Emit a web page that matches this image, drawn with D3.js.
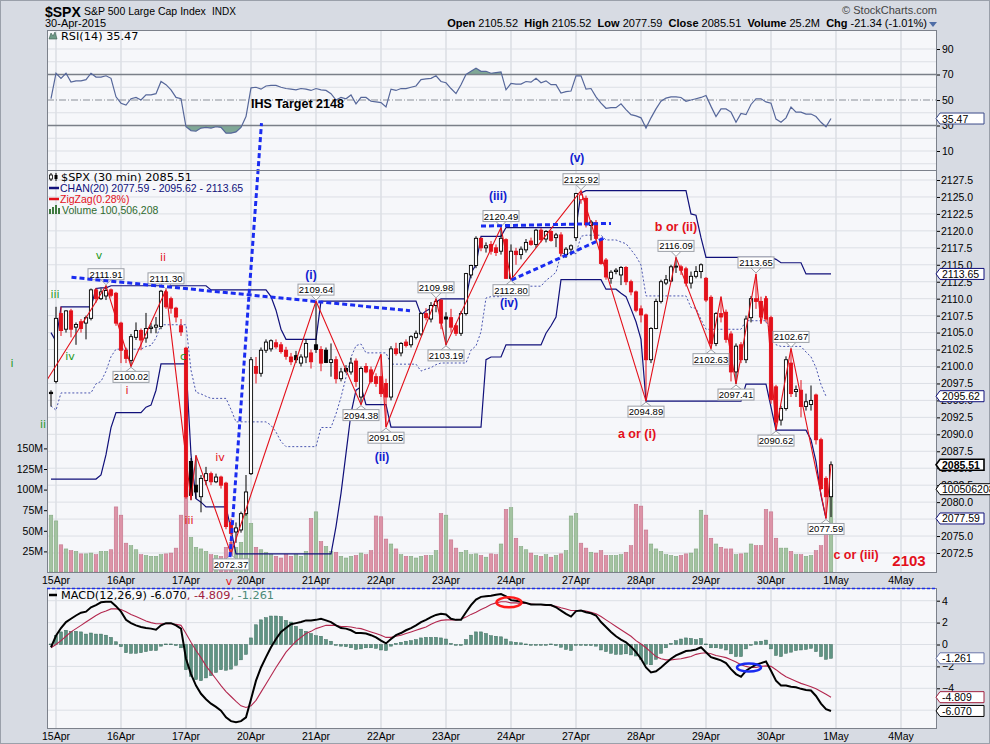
<!DOCTYPE html>
<html>
<head>
<meta charset="utf-8">
<title>$SPX 30 min</title>
<script src="https://cdn.jsdelivr.net/npm/d3@7"></script>
<style>
  body { margin: 0; background: #fff; }
  svg text { font-family: 'Liberation Sans', Arial, sans-serif; }
  svg text.dj { font-family: 'DejaVu Sans', Verdana, sans-serif; }
</style>
</head>
<body>
<svg id="chart" width="990" height="744"></svg>
<script>
(function() {
    'use strict';

    // ---- data (30 min bars, index 0 = last bar of 14 Apr) ----
    const dayLabels = ['15Apr', '16Apr', '17Apr', '20Apr', '21Apr', '22Apr', '23Apr', '24Apr', '27Apr', '28Apr', '29Apr', '30Apr', '1May', '4May'];
    const dayIndex = [1, 14, 27, 40, 53, 66, 79, 92, 105, 118, 131, 144, 157, 170];

    const opens = [
        2096.2, 2097.8, 2107.8, 2105.5, 2108.2, 2105.8, 2106.6, 2106.4, 2107.1, 2111.3, 2110.0, 2110.4, 2111.3, 2110.8,
        2106.4, 2102.4, 2100.9, 2104.3, 2105.3, 2104.2, 2105.6, 2105.8, 2105.9, 2111.0, 2110.0, 2108.6, 2106.0,
        2102.7, 2086.0, 2082.5, 2080.8, 2083.2, 2084.2, 2083.0, 2083.7, 2082.8, 2077.0, 2075.6, 2075.9, 2078.3,
        2084.2, 2100.0, 2099.0, 2102.4, 2102.6, 2103.5, 2103.2, 2102.4, 2101.4, 2101.6, 2100.5, 2101.4, 2102.0,
        2103.2, 2102.5, 2102.4, 2100.6, 2101.0, 2098.2, 2099.7, 2099.2, 2100.8, 2095.5, 2100.0, 2099.5, 2098.5,
        2098.5, 2097.5, 2095.5, 2102.6, 2102.0, 2103.6, 2103.2, 2104.3, 2104.8, 2107.8, 2107.0, 2109.0, 2109.8,
        2107.3, 2107.2, 2106.0, 2104.9, 2107.8, 2113.5, 2114.9, 2118.9, 2117.5, 2118.0, 2117.5, 2117.0, 2118.7,
        2113.0, 2117.0, 2116.5, 2117.2, 2118.5, 2118.0, 2120.1, 2118.8, 2119.9, 2119.0, 2119.4, 2116.5, 2117.3,
        2119.0, 2124.6, 2124.8, 2120.8, 2121.2, 2118.7, 2115.7, 2113.0, 2114.0, 2113.5, 2114.6, 2112.5, 2111.0,
        2108.5, 2107.6, 2101.0, 2105.6, 2109.6, 2112.3, 2112.6, 2114.7, 2114.7, 2114.4, 2112.3, 2113.3, 2114.0,
        2113.0, 2110.2, 2103.4, 2107.8, 2108.0, 2104.8, 2099.2, 2103.2, 2101.0, 2107.2, 2110.0, 2109.6, 2110.0,
        2107.2, 2097.0, 2092.1, 2093.8, 2100.5, 2096.3, 2096.5, 2094.1, 2094.4, 2095.8, 2089.2, 2083.5, 2080.8
    ];
    const highs = [
        2096.5, 2108.8, 2108.8, 2108.3, 2108.5, 2106.5, 2107.0, 2107.5, 2111.5, 2111.6, 2111.5, 2111.91, 2111.5, 2111.0,
        2106.6, 2102.8, 2104.8, 2106.5, 2105.6, 2107.9, 2106.4, 2107.3, 2111.3, 2111.30, 2110.3, 2108.8, 2107.0,
        2102.9, 2086.5, 2086.9, 2084.0, 2085.2, 2084.5, 2084.2, 2083.9, 2083.0, 2077.6, 2077.0, 2078.6, 2084.0,
        2101.4, 2101.4, 2102.8, 2104.0, 2104.0, 2104.0, 2103.6, 2102.9, 2102.0, 2102.3, 2101.8, 2104.0, 2102.5,
        2109.64, 2103.0, 2102.8, 2103.4, 2101.5, 2099.8, 2100.2, 2101.3, 2101.2, 2100.0, 2100.5, 2100.0, 2099.0,
        2101.8, 2098.2, 2103.0, 2103.5, 2103.6, 2104.0, 2104.6, 2105.3, 2108.0, 2108.6, 2109.5, 2109.98, 2109.9,
        2108.0, 2108.5, 2106.4, 2108.2, 2113.8, 2115.0, 2119.2, 2119.0, 2118.3, 2118.5, 2118.0, 2120.49, 2118.9,
        2118.0, 2117.5, 2117.7, 2118.8, 2119.0, 2120.3, 2120.4, 2120.1, 2120.1, 2119.7, 2119.8, 2117.6, 2118.0,
        2125.6, 2125.92, 2125.2, 2121.6, 2121.6, 2119.0, 2116.0, 2114.2, 2114.5, 2114.8, 2114.8, 2112.8, 2111.2,
        2109.0, 2107.8, 2105.8, 2110.0, 2112.8, 2113.5, 2115.0, 2116.09, 2115.0, 2114.7, 2114.0, 2114.8, 2115.2,
        2113.2, 2110.5, 2108.0, 2110.3, 2108.4, 2105.2, 2103.4, 2103.6, 2107.5, 2110.4, 2113.65, 2110.3, 2110.4,
        2107.5, 2097.3, 2094.2, 2101.5, 2102.67, 2097.2, 2098.0, 2096.0, 2097.2, 2096.0, 2089.5, 2083.8, 2086.0
    ];
    const lows = [
        2094.1, 2097.5, 2104.5, 2105.0, 2104.3, 2103.2, 2105.0, 2104.0, 2106.8, 2109.4, 2109.8, 2109.8, 2110.2, 2106.0,
        2100.5, 2100.5, 2100.02, 2103.9, 2102.4, 2103.5, 2104.9, 2104.9, 2105.5, 2108.5, 2107.8, 2106.5, 2104.5,
        2080.5, 2080.3, 2080.5, 2078.5, 2082.5, 2082.5, 2082.8, 2082.0, 2076.0, 2072.37, 2074.0, 2075.5, 2078.0,
        2084.0, 2097.5, 2098.5, 2102.0, 2102.2, 2102.6, 2101.9, 2101.0, 2100.2, 2100.5, 2100.0, 2100.5, 2099.7,
        2102.0, 2099.3, 2100.5, 2098.5, 2097.5, 2097.8, 2099.0, 2098.8, 2097.0, 2094.38, 2099.0, 2097.5, 2097.0,
        2095.5, 2091.05, 2095.0, 2101.6, 2101.5, 2102.8, 2102.8, 2104.0, 2104.5, 2106.8, 2106.5, 2108.0, 2105.5,
        2103.19, 2105.0, 2104.5, 2104.5, 2107.5, 2113.0, 2114.5, 2117.0, 2116.8, 2116.5, 2116.3, 2116.5, 2112.9,
        2112.80, 2115.0, 2115.8, 2116.8, 2117.8, 2117.5, 2118.3, 2118.3, 2118.4, 2117.6, 2116.2, 2116.0, 2116.4,
        2118.5, 2124.0, 2120.5, 2118.6, 2118.6, 2115.0, 2112.8, 2112.2, 2113.6, 2112.0, 2112.0, 2110.5, 2108.0,
        2106.5, 2094.89, 2100.5, 2105.5, 2109.3, 2112.0, 2112.5, 2113.8, 2113.5, 2111.8, 2111.5, 2113.0, 2113.0,
        2109.5, 2102.63, 2103.0, 2106.5, 2103.5, 2097.8, 2097.41, 2100.5, 2100.5, 2106.5, 2108.5, 2106.3, 2106.5,
        2094.5, 2090.62, 2091.3, 2093.5, 2095.5, 2095.5, 2092.5, 2093.5, 2093.5, 2088.5, 2081.8, 2077.59, 2077.8
    ];
    const closes = [
        2096.0, 2107.1, 2105.3, 2108.2, 2105.5, 2106.2, 2105.6, 2107.2, 2111.3, 2110.0, 2111.0, 2111.2, 2110.5, 2106.4,
        2102.4, 2101.2, 2104.4, 2105.3, 2103.9, 2105.6, 2105.8, 2106.1, 2111.1, 2108.8, 2108.6, 2107.3, 2105.1,
        2080.8, 2081.0, 2081.5, 2083.5, 2084.2, 2083.0, 2083.7, 2082.5, 2076.4, 2075.4, 2076.2, 2078.3, 2081.5,
        2101.0, 2099.0, 2102.4, 2103.6, 2103.8, 2102.9, 2102.2, 2101.5, 2100.7, 2101.0, 2101.4, 2103.4, 2100.7,
        2102.5, 2100.5, 2100.6, 2101.0, 2098.2, 2099.2, 2099.3, 2100.5, 2097.8, 2099.7, 2099.2, 2097.8, 2097.5,
        2096.0, 2095.5, 2102.6, 2101.9, 2103.4, 2103.1, 2104.4, 2104.9, 2107.8, 2107.2, 2109.0, 2109.6, 2106.4,
        2107.0, 2105.8, 2104.9, 2107.8, 2113.7, 2114.9, 2118.9, 2117.5, 2117.8, 2117.0, 2116.8, 2118.9, 2113.0,
        2117.0, 2116.5, 2117.3, 2118.3, 2118.0, 2120.1, 2118.7, 2119.9, 2118.6, 2119.4, 2116.7, 2117.3, 2117.8,
        2125.5, 2125.3, 2120.9, 2121.3, 2118.9, 2115.2, 2113.2, 2113.9, 2114.2, 2114.6, 2112.5, 2111.0, 2108.3,
        2107.6, 2101.0, 2105.6, 2109.6, 2112.5, 2112.8, 2114.7, 2114.8, 2114.2, 2112.3, 2113.3, 2114.0, 2115.0,
        2109.8, 2103.4, 2107.8, 2107.3, 2104.0, 2099.2, 2103.0, 2101.0, 2107.0, 2110.0, 2109.6, 2107.3, 2107.0,
        2095.1, 2091.8, 2093.8, 2101.0, 2096.0, 2096.6, 2094.1, 2094.8, 2095.0, 2089.2, 2082.0, 2080.8, 2085.51
    ];
    // volume, millions
    const volumes = [
        69, 62, 33, 28, 26, 25, 22, 22, 23, 21, 25, 25, 27, 79,
        69, 35, 32, 27, 21, 20, 19, 19, 21, 22, 23, 29, 69,
        108, 42, 30, 28, 25, 21, 20, 19, 30, 36, 30, 36, 71,
        59, 30, 27, 24, 21, 19, 17, 21, 19, 21, 19, 25, 65,
        73, 37, 31, 25, 24, 19, 17, 19, 20, 23, 21, 26, 68,
        67, 40, 34, 28, 21, 19, 19, 17, 19, 20, 20, 26, 71,
        69, 39, 29, 24, 26, 21, 22, 20, 18, 22, 21, 34, 76,
        78, 41, 31, 27, 23, 20, 19, 21, 18, 20, 22, 26, 68,
        71, 35, 29, 24, 23, 26, 20, 20, 20, 21, 24, 32, 82,
        80, 51, 34, 28, 25, 21, 20, 19, 20, 22, 23, 28, 75,
        69, 41, 34, 30, 28, 28, 21, 22, 23, 34, 32, 32, 76,
        73, 41, 29, 29, 25, 21, 21, 19, 20, 26, 32, 60, 100.5
    ];
    // price channel CHAN(20) upper / lower
    const chanUpper = [
        2105.0, 2103.7, 2108.8, 2108.8, 2108.8, 2108.8, 2108.8, 2108.8, 2108.8, 2111.5, 2111.6, 2111.6, 2111.91, 2111.91,
        2111.91, 2111.91, 2111.91, 2111.91, 2111.91, 2111.91, 2111.91, 2111.91, 2111.91, 2111.91, 2111.91, 2111.91, 2111.91,
        2111.91, 2111.91, 2111.91, 2111.91, 2111.91, 2111.30, 2111.30, 2111.30, 2111.30, 2111.30, 2111.30, 2111.30, 2111.30,
        2111.30, 2111.30, 2111.30, 2111.30, 2110.3, 2108.3, 2105.5, 2104.0, 2104.0, 2104.0, 2104.0, 2104.0, 2104.0,
        2104.0, 2109.64, 2109.64, 2109.64, 2109.64, 2109.64, 2109.64, 2109.64, 2109.64, 2109.64, 2109.64, 2109.64, 2109.64,
        2109.64, 2109.64, 2109.64, 2109.64, 2109.64, 2109.64, 2109.64, 2109.64, 2107.6, 2108.2, 2108.6, 2109.5, 2109.98,
        2109.98, 2109.98, 2109.98, 2109.98, 2109.98, 2113.8, 2115.0, 2119.2, 2119.2, 2119.2, 2119.2, 2119.2, 2120.49,
        2120.49, 2120.49, 2120.49, 2120.49, 2120.49, 2120.49, 2120.49, 2120.49, 2120.49, 2120.49, 2120.49, 2120.49, 2120.49,
        2120.49, 2125.6, 2125.92, 2125.92, 2125.92, 2125.92, 2125.92, 2125.92, 2125.92, 2125.92, 2125.92, 2125.92, 2125.92,
        2125.92, 2125.92, 2125.92, 2125.92, 2125.92, 2125.92, 2125.92, 2125.92, 2125.92, 2125.92, 2122.5, 2122.3, 2119.0,
        2116.09, 2116.09, 2116.09, 2116.09, 2116.09, 2116.09, 2116.09, 2116.09, 2116.09, 2116.09, 2116.09, 2116.09, 2116.09,
        2116.09, 2115.8, 2115.3, 2115.3, 2115.3, 2115.3, 2115.3, 2113.65, 2113.65, 2113.65, 2113.65, 2113.65, 2113.65
    ];
    const chanLower = [
        2083.4, 2083.4, 2083.4, 2083.4, 2083.4, 2083.4, 2083.4, 2083.4, 2083.4, 2083.4, 2084.0, 2087.0, 2091.0, 2093.2,
        2093.2, 2093.2, 2093.2, 2093.2, 2093.2, 2094.0, 2094.3, 2096.5, 2100.4, 2100.4, 2100.4, 2100.4, 2100.4,
        2100.4, 2087.0, 2080.5, 2080.0, 2079.3, 2079.3, 2079.3, 2079.3, 2079.3, 2076.0, 2072.37, 2072.37, 2072.37,
        2072.37, 2072.37, 2072.37, 2072.37, 2072.37, 2072.37, 2072.37, 2072.37, 2072.37, 2072.37, 2072.37, 2072.37, 2072.37,
        2072.37, 2072.37, 2072.37, 2072.37, 2076.4, 2081.3, 2087.2, 2093.1, 2096.5, 2097.0, 2094.38, 2094.38, 2094.38,
        2094.38, 2094.38, 2091.05, 2091.05, 2091.05, 2091.05, 2091.05, 2091.05, 2091.05, 2091.05, 2091.05, 2091.05, 2091.05,
        2091.05, 2091.05, 2091.05, 2091.05, 2091.05, 2091.05, 2091.05, 2091.05, 2101.0, 2101.4, 2101.4, 2101.4, 2103.19,
        2103.19, 2103.19, 2103.19, 2103.19, 2103.19, 2103.19, 2103.19, 2104.9, 2106.0, 2107.3, 2112.80, 2112.80, 2112.80,
        2112.80, 2112.80, 2112.80, 2112.80, 2112.80, 2112.80, 2111.4, 2111.4, 2111.4, 2110.8, 2110.3, 2108.5,
        2106.6, 2104.0, 2094.89, 2094.89, 2094.89, 2094.89, 2094.89, 2094.89, 2094.89, 2094.89, 2094.89, 2094.89, 2094.89,
        2094.89, 2094.89, 2094.89, 2094.89, 2094.89, 2094.89, 2094.89, 2094.89, 2094.89, 2097.41, 2097.41, 2097.41, 2097.41,
        2097.41, 2094.0, 2090.62, 2090.62, 2090.62, 2090.62, 2090.62, 2090.62, 2090.62, 2089.2, 2086.0, 2081.0, 2077.59
    ];
    const rsiValues = [
        51, 71, 67, 71, 64, 65, 65, 66, 71, 68, 68, 69, 67, 52.5,
        47.5, 46, 51, 52, 50, 54, 54, 55, 64.5, 62, 58, 52, 51,
        29, 26, 25.5, 28, 28.5, 28, 29, 28.5, 24, 24, 25, 28.5, 37,
        59.5, 60, 58.5, 61, 61.5, 61.5, 60, 59, 58.5, 58, 59, 58.5, 57.5,
        59, 58, 57.5, 55, 50, 52, 51, 54, 47, 52, 52, 49, 48.5,
        48, 44.5, 58.5, 57.5, 59, 59, 60, 61, 66, 66.5, 67, 69, 64.5,
        63.5, 59, 55, 62, 70, 72.5, 75, 72.5, 72.5, 71, 71.5, 72, 58,
        63, 62.5, 62.5, 64.5, 64, 67, 63.5, 65, 62, 62, 55.5, 56.5, 57,
        69, 69, 58.5, 59, 52.5, 47.5, 43.5, 44, 44, 47, 42.5, 38.5, 37.5,
        36, 28, 36, 43, 49, 51.5, 52.5, 52.5, 52, 49, 50, 51, 52,
        53.5, 45, 37, 43, 43, 40.5, 32.5, 39.5, 38.5, 46.5, 51, 51, 48.5,
        47.5, 35, 32.5, 36, 44.5, 40.5, 40.5, 39, 39, 37, 32.5, 29, 35.47
    ];
    const macdValues = [
        -0.25, 0.8, 1.5, 2.05, 2.35, 2.65, 2.9, 3.0, 3.4, 3.6, 3.85, 3.9, 3.9, 3.5,
        3.0, 2.25, 1.95, 1.75, 1.6, 1.5, 1.45, 1.35, 1.75, 1.95, 1.95, 1.75, 1.45,
        -1.3, -2.7, -3.75, -4.5, -5.0, -5.4, -5.7, -6.05, -6.65, -7.0, -7.1, -7.0, -6.65,
        -5.0, -3.3, -2.1, -1.15, -0.25, 0.5, 1.15, 1.5, 1.85, 1.95, 2.05, 2.2, 2.2,
        2.25, 2.35, 2.2, 2.05, 1.75, 1.5, 1.45, 1.3, 1.05, 1.05, 1.0, 0.85, 0.65,
        0.35, 0.1, 0.5, 0.85, 1.05, 1.3, 1.5, 1.75, 2.05, 2.25, 2.5, 2.7, 2.8,
        2.75, 2.35, 2.25, 2.25, 2.95, 3.6, 4.1, 4.35, 4.4, 4.45, 4.55, 4.6, 4.4,
        4.05, 4.0, 3.9, 3.8, 3.65, 3.65, 3.65, 3.6, 3.6, 3.4, 3.1, 2.8, 2.55,
        3.05, 3.1, 2.95, 2.85, 2.65, 2.05, 1.6, 1.15, 0.75, 0.45, 0.2, -0.2, -0.7,
        -1.3, -2.1, -2.55, -2.45, -2.1, -1.7, -1.3, -1.0, -0.8, -0.6, -0.55, -0.45, -0.25,
        -0.7, -1.15, -1.3, -1.45, -1.7, -2.25, -2.7, -2.95, -2.4, -2.1, -1.85, -1.7, -1.55,
        -2.4, -3.3, -3.75, -3.75, -3.85, -3.9, -4.05, -4.15, -4.2, -4.7, -5.4, -5.9, -6.07
    ];
    const signalValues = [
        -0.3, 0, 0.35, 0.75, 1.15, 1.45, 1.75, 2.05, 2.35, 2.65, 2.9, 3.05, 3.25, 3.25,
        3.2, 3.0, 2.75, 2.55, 2.35, 2.15, 2.0, 1.9, 1.9, 1.9, 1.9, 1.85, 1.75,
        1.0, 0.2, -0.55, -1.2, -1.95, -2.55, -3.15, -3.75, -4.3, -4.75, -5.2, -5.6, -5.75,
        -5.6, -5.1, -4.35, -3.6, -2.85, -2.1, -1.4, -0.7, -0.2, 0.3, 0.65, 1.0, 1.2,
        1.45, 1.6, 1.75, 1.75, 1.75, 1.65, 1.65, 1.6, 1.5, 1.45, 1.3, 1.15, 1.0,
        0.85, 0.65, 0.65, 0.75, 0.85, 1.0, 1.15, 1.3, 1.45, 1.6, 1.85, 2.05, 2.2,
        2.25, 2.25, 2.25, 2.3, 2.5, 2.75, 2.95, 3.2, 3.4, 3.65, 3.8, 3.9, 3.9,
        3.8, 3.8, 3.75, 3.75, 3.7, 3.65, 3.65, 3.6, 3.55, 3.5, 3.35, 3.25, 3.1,
        3.1, 3.1, 3.05, 2.95, 2.8, 2.55, 2.25, 1.95, 1.65, 1.35, 1.05, 0.75, 0.35,
        0.05, -0.3, -0.7, -1.1, -1.3, -1.4, -1.4, -1.35, -1.3, -1.2, -1.1, -0.9, -0.8,
        -0.75, -0.85, -1.0, -1.1, -1.2, -1.4, -1.6, -1.85, -2.0, -2.1, -2.1, -2.0, -1.95,
        -2.0, -2.3, -2.65, -2.95, -3.15, -3.35, -3.55, -3.7, -3.85, -4.05, -4.3, -4.55, -4.809
    ];

    // ZigZag(0.28%) pivots: bar index and price
    const zigIdx = [-0.8, 11, 16, 23, 28, 29, 36, 53, 62, 66, 67, 77, 79, 90, 92, 106, 119, 125, 132, 134, 137, 141, 142, 143, 145, 148, 155, 156];
    const zigVal = [2098.0, 2111.91, 2100.02, 2111.30, 2080.3, 2086.9, 2072.37, 2109.64, 2094.38, 2101.8, 2091.05, 2109.98, 2103.19, 2120.49, 2112.80, 2125.92, 2094.89, 2116.09, 2102.63, 2110.3, 2097.41, 2113.65, 2106.3, 2110.4, 2090.62, 2102.67, 2077.59, 2085.51];

    // boxed pivot values: index, price, above (true) / below (false)
    const pivotIdx = [11, 16, 23, 36, 53, 62, 67, 77, 79, 90, 92, 106, 119, 125, 132, 137, 141, 145, 148, 155];
    const pivotVal = [2111.91, 2100.02, 2111.30, 2072.37, 2109.64, 2094.38, 2091.05, 2109.98, 2103.19, 2120.49, 2112.80, 2125.92, 2094.89, 2116.09, 2102.63, 2097.41, 2113.65, 2090.62, 2102.67, 2077.59];
    const pivotAbove = [true, false, true, false, true, false, false, true, false, true, false, true, false, true, false, false, true, false, true, false];

    // wave count annotations (bar index, price, colour key, size, bold)
    const waveText = ['v', 'iii', 'iv', 'i', 'ii', 'c', 'ii', 'i', 'iii', 'iv', 'v',
        '(i)', '(ii)', '(iii)', '(iv)', '(v)', 'b or (ii)', 'a or (i)', 'c or (iii)', '2103'];
    const waveIdx = [9.6, 0.8, 3.8, -7.8, -1.6, 26.4, 22.4, 15.2, 27.6, 33.8, 35.6,
        52, 66.2, 89.4, 91.6, 105.2, 125, 117.2, 161, 171.6];
    const waveVal = [2115.85, 2110.1, 2100.95, 2099.9, 2090.9, 2100.95, 2115.55, 2095.95, 2076.76, 2086.05, 2067.8,
        2112.9, 2086.05, 2124.55, 2108.77, 2130.15, 2119.98, 2089.45, 2071.6, 2070.6];
    const waveColor = ['g', 'g', 'g', 'g', 'g', 'g', 'r', 'r', 'r', 'r', 'r',
        'b', 'b', 'b', 'b', 'b', 'r', 'r', 'r', 'r'];
    const waveSize = [11, 11, 11, 11, 11, 11, 11, 11, 11, 11, 11,
        12, 12, 12, 12, 12, 12.5, 12.5, 12.5, 15];
    const waveBold = [false, false, false, false, false, false, false, false, false, false, false,
        true, true, true, true, true, true, true, true, true];

    // blue dashed trend lines: [idx0, price0, idx1, price1]
    const trendLines = [
        [4.1, 2113.15, 71.8, 2108.22],
        [35.8, 2071.9, 42.1, 2135.9],
        [86, 2120.7, 112, 2121.1],
        [92.1, 2112.75, 110.5, 2118.9]
    ];

    const priceTicks = d3.range(2072.5, 2128, 2.5);
    const volTicks = [25, 50, 75, 100, 125, 150];
    const rsiTicks = [10, 30, 50, 70, 90];
    const macdTicks = [-4, -2, 0, 2, 4];

    // ---- layout ----
    const W = 990, H = 744;
    const PL = 47, PR = 937;
    const rsiTop = 30, rsiBot = 170;
    const priceTop = 170, priceBot = 572;
    const macdTop = 588, macdBot = 728;

    const BG = '#d7dbe3', PLOT = '#f6f7fa', GRID = '#dcdfe5', VGRID = '#cdd1d8', FRAME = '#7c818b';
    const RED = '#e3101a', NAVY = '#10107a';

    const x = d3.scaleLinear().domain([0, 1]).range([51, 56]);
    const yRsi = d3.scaleLinear().domain([0, 90]).range([163.75, 49]);
    const yPrice = d3.scaleLinear().domain([2072.5, 2127.5]).range([553, 180]);
    const yVol = d3.scaleLinear().domain([0, 150]).range([priceBot, 448.4]);
    const yMacd = d3.scaleLinear().domain([-4, 4]).range([688.3, 600.7]);

    const svg = d3.select('#chart');
    const defs = svg.append('defs');

    function clip(id, y0, y1) {
        defs.append('clipPath').attr('id', id)
            .append('rect').attr('x', PL).attr('y', y0).attr('width', PR - PL).attr('height', y1 - y0);
        return 'url(#' + id + ')';
    }

    svg.append('rect').attr('width', W).attr('height', H).attr('fill', BG);
    svg.append('rect').attr('x', 0.5).attr('y', 0.5).attr('width', W - 1).attr('height', H - 1)
        .attr('fill', 'none').attr('stroke', '#9aa0aa');

    // ---- header ----
    svg.append('text').attr('x', 45).attr('y', 17).attr('font-size', 14).attr('font-weight', 'bold').text('$SPX');
    svg.append('text').attr('x', 84).attr('y', 15).attr('font-size', 10.5).text('S&P 500 Large Cap Index');
    svg.append('text').attr('x', 212).attr('y', 15).attr('font-size', 10).text('INDX');
    svg.append('text').attr('x', 45).attr('y', 27).attr('font-size', 11).text('30-Apr-2015');
    svg.append('text').attr('x', 937).attr('y', 14).attr('text-anchor', 'end').attr('font-size', 11)
        .attr('fill', '#444').text('\u00a9 StockCharts.com');

    const hdr = svg.append('text').attr('x', 927).attr('y', 27).attr('text-anchor', 'end').attr('font-size', 11);
    [['Open', ' 2105.52  '], ['High', ' 2105.52  '], ['Low', ' 2077.59  '], ['Close', ' 2085.51  '],
     ['Volume', ' 25.2M  '], ['Chg', ' -21.34 (-1.01%)']].forEach(p => {
        hdr.append('tspan').attr('font-weight', 'bold').text(p[0]);
        hdr.append('tspan').style('white-space', 'pre').text(p[1]);
    });
    svg.append('path').attr('d', 'M929,22 L937,22 L933,27 Z').attr('fill', '#4e6da6');

    // ---- panels ----
    [[rsiTop, rsiBot], [priceTop, priceBot], [macdTop, macdBot]].forEach(p => {
        svg.append('rect').attr('x', PL).attr('y', p[0]).attr('width', PR - PL).attr('height', p[1] - p[0])
            .attr('fill', PLOT);
    });

    // vertical day grid
    [[rsiTop, rsiBot], [priceTop, priceBot], [macdTop, macdBot]].forEach(p => {
        svg.append('g').selectAll('line').data(dayIndex).enter().append('line')
            .attr('x1', d => x(d)).attr('x2', d => x(d))
            .attr('y1', p[0]).attr('y2', p[1])
            .attr('stroke', VGRID).attr('stroke-width', 1);
    });

    // ---- RSI panel ----
    const rsiG = svg.append('g').attr('clip-path', clip('clip-rsi', rsiTop, rsiBot));
    rsiG.selectAll('.rg').data(d3.range(0, 100, 10).filter(v => v !== 30 && v !== 50 && v !== 70)).enter()
        .append('line').attr('x1', PL).attr('x2', PR)
        .attr('y1', d => yRsi(d)).attr('y2', d => yRsi(d)).attr('stroke', GRID);

    const rsiPts = rsiValues.map((v, i) => [i, v]);
    defs.append('clipPath').attr('id', 'rsi-hi').append('rect')
        .attr('x', PL).attr('y', rsiTop).attr('width', PR - PL).attr('height', yRsi(70) - rsiTop);
    defs.append('clipPath').attr('id', 'rsi-lo').append('rect')
        .attr('x', PL).attr('y', yRsi(30)).attr('width', PR - PL).attr('height', rsiBot - yRsi(30));
    rsiG.append('path').datum(rsiPts).attr('clip-path', 'url(#rsi-hi)')
        .attr('d', d3.area().x(d => x(d[0])).y0(yRsi(70)).y1(d => yRsi(d[1])))
        .attr('fill', '#7fa796');
    rsiG.append('path').datum(rsiPts).attr('clip-path', 'url(#rsi-lo)')
        .attr('d', d3.area().x(d => x(d[0])).y0(yRsi(30)).y1(d => yRsi(d[1])))
        .attr('fill', '#7fa796');

    [70, 30].forEach(v => {
        rsiG.append('line').attr('x1', PL).attr('x2', PR).attr('y1', yRsi(v)).attr('y2', yRsi(v))
            .attr('stroke', '#7a7f88').attr('stroke-width', 1.3);
    });
    rsiG.append('line').attr('x1', PL).attr('x2', PR).attr('y1', yRsi(50)).attr('y2', yRsi(50))
        .attr('stroke', '#8a8f98').attr('stroke-dasharray', '7,2,1,2');

    rsiG.append('path').datum(rsiPts)
        .attr('d', d3.line().x(d => x(d[0])).y(d => yRsi(d[1])))
        .attr('fill', 'none').attr('stroke', '#56679a').attr('stroke-width', 1.2);

    // RSI legend
    svg.append('path').attr('d', 'M49,39 L51,33 L53,36 L55,32 L57,39 Z').attr('fill', '#6f9a88').attr('stroke', '#3e5f52').attr('stroke-width', 0.6);
    svg.append('text').attr('class', 'dj').attr('x', 61).attr('y', 40).attr('font-size', 11.3).text('RSI(14) 35.47');

    svg.append('text').attr('x', x(40)).attr('y', yRsi(43.7)).attr('font-size', 12.5).attr('font-weight', 'bold')
        .text('IHS Target 2148');

    svg.append('g').attr('transform', 'translate(' + PR + ',0)')
        .call(d3.axisRight(yRsi).tickValues(rsiTicks).tickSize(3).tickPadding(2))
        .call(g => g.select('.domain').remove())
        .call(g => g.selectAll('text').attr('font-size', 10.5));

    // ---- price panel ----
    const priceClip = clip('clip-price', priceTop, priceBot);
    const pg = svg.append('g').attr('clip-path', priceClip);
    pg.selectAll('.pgrid').data(priceTicks).enter().append('line')
        .attr('x1', PL).attr('x2', PR).attr('y1', d => yPrice(d)).attr('y2', d => yPrice(d))
        .attr('stroke', GRID);

    const bars = closes.map((c, i) => ({
        i: i, o: opens[i], h: highs[i], l: lows[i], c: c, v: volumes[i],
        up: i === 0 ? true : c >= closes[i - 1]
    }));

    // volume
    pg.selectAll('.vol').data(bars).enter().append('rect')
        .attr('x', d => x(d.i) - 1.8).attr('width', 3.6)
        .attr('y', d => yVol(d.v)).attr('height', d => yVol(0) - yVol(d.v))
        .attr('fill', d => d.up ? '#a3c3a1' : '#dc93a7')
        .attr('stroke', d => d.up ? '#7ea47c' : '#bf6e86').attr('stroke-width', 0.5);

    // price channel
    const chanLine = arr => d3.line().x((d, i) => x(i)).y(d => yPrice(d))(arr);
    const chanMid = chanUpper.map((u, i) => (u + chanLower[i]) / 2);
    pg.append('path').attr('d', chanLine(chanMid)).attr('fill', 'none')
        .attr('stroke', '#4b56b0').attr('stroke-width', 1).attr('stroke-dasharray', '2,2');
    pg.append('path').attr('d', chanLine(chanUpper)).attr('fill', 'none').attr('stroke', NAVY).attr('stroke-width', 1.2);
    pg.append('path').attr('d', chanLine(chanLower)).attr('fill', 'none').attr('stroke', NAVY).attr('stroke-width', 1.2);

    // candles
    const cg = pg.selectAll('.candle').data(bars).enter().append('g');
    cg.append('line')
        .attr('x1', d => x(d.i)).attr('x2', d => x(d.i))
        .attr('y1', d => yPrice(d.h)).attr('y2', d => yPrice(d.l))
        .attr('stroke', d => d.up ? '#000' : RED).attr('stroke-width', 1);
    cg.append('rect')
        .attr('x', d => x(d.i) - 1.6).attr('width', 3.2)
        .attr('y', d => yPrice(Math.max(d.o, d.c)))
        .attr('height', d => Math.max(1, Math.abs(yPrice(d.o) - yPrice(d.c))))
        .attr('fill', d => d.c > d.o ? '#fff' : (d.up ? '#000' : RED))
        .attr('stroke', d => d.up ? '#000' : RED).attr('stroke-width', 0.9);

    // zigzag
    pg.append('path').datum(zigIdx.map((d, k) => [d, zigVal[k]]))
        .attr('d', d3.line().x(d => x(d[0])).y(d => yPrice(d[1])))
        .attr('fill', 'none').attr('stroke', RED).attr('stroke-width', 1.1);

    // trend lines (allowed to run into the RSI panel)
    svg.append('g').selectAll('line').data(trendLines).enter().append('line')
        .attr('x1', d => x(d[0])).attr('y1', d => yPrice(d[1]))
        .attr('x2', d => x(d[2])).attr('y2', d => yPrice(d[3]))
        .attr('stroke', '#1a2cf0').attr('stroke-width', 3).attr('stroke-dasharray', '5,3');

    // pivot value boxes
    const pv = pg.selectAll('.pivot').data(pivotIdx.map((d, k) => ({ i: d, v: pivotVal[k], a: pivotAbove[k] })))
        .enter().append('g');
    pv.each(function(d) {
        const g = d3.select(this);
        const px = x(d.i), py = yPrice(d.v);
        const bw = 36, bh = 11;
        const by = d.a ? py - 6 - bh : py + 5;
        g.append('path')
            .attr('d', d.a
                ? `M${px - 5},${by + bh} L${px},${py - 1} L${px + 5},${by + bh}`
                : `M${px - 5},${by} L${px},${py + 1} L${px + 5},${by}`)
            .attr('fill', '#fff').attr('stroke', '#9a9ea6').attr('stroke-width', 1);
        g.append('rect').attr('x', px - bw / 2).attr('y', by).attr('width', bw).attr('height', bh)
            .attr('fill', '#fff').attr('stroke', '#9a9ea6').attr('stroke-width', 1);
        g.append('text').attr('x', px).attr('y', by + 9).attr('text-anchor', 'middle')
            .attr('font-size', 9.5).text(d.v.toFixed(2));
    });

    // wave labels (some sit outside the plot, so not clipped)
    const waveFill = { g: '#1f9a1f', r: '#e3101a', b: '#1020d0' };
    svg.append('g').selectAll('text').data(waveText).enter().append('text')
        .attr('class', (d, k) => waveBold[k] ? null : 'dj')
        .attr('x', (d, k) => x(waveIdx[k])).attr('y', (d, k) => yPrice(waveVal[k]))
        .attr('text-anchor', 'middle')
        .attr('font-size', (d, k) => waveSize[k])
        .attr('font-weight', (d, k) => waveBold[k] ? 'bold' : 'normal')
        .attr('fill', (d, k) => waveFill[waveColor[k]])
        .text(d => d);

    // price panel legend
    const lg = svg.append('g');
    lg.append('line').attr('x1', 51).attr('x2', 51).attr('y1', 173).attr('y2', 181).attr('stroke', '#000');
    lg.append('rect').attr('x', 49.5).attr('y', 175).attr('width', 3).attr('height', 4).attr('fill', '#fff').attr('stroke', '#000').attr('stroke-width', 0.8);
    lg.append('line').attr('x1', 56).attr('x2', 56).attr('y1', 173).attr('y2', 181).attr('stroke', '#000');
    lg.append('rect').attr('x', 54.5).attr('y', 175).attr('width', 3).attr('height', 4).attr('fill', '#000');
    lg.append('text').attr('class', 'dj').attr('x', 61).attr('y', 181).attr('font-size', 11.3).text('$SPX (30 min) 2085.51');
    lg.append('line').attr('x1', 49).attr('x2', 59).attr('y1', 188).attr('y2', 188).attr('stroke', NAVY).attr('stroke-width', 2.5);
    lg.append('text').attr('x', 60).attr('y', 192).attr('font-size', 10.5).attr('fill', NAVY)
        .text('CHAN(20) 2077.59 - 2095.62 - 2113.65');
    lg.append('line').attr('x1', 49).attr('x2', 59).attr('y1', 199).attr('y2', 199).attr('stroke', RED).attr('stroke-width', 2.5);
    lg.append('text').attr('x', 60).attr('y', 203).attr('font-size', 10.5).attr('fill', RED).text('ZigZag(0.28%)');
    [[49, 209], [52, 207], [55, 205], [58, 208]].forEach(b => {
        lg.append('rect').attr('x', b[0]).attr('y', b[1]).attr('width', 2).attr('height', 214 - b[1]).attr('fill', '#3f7a3f');
    });
    lg.append('text').attr('x', 62).attr('y', 214).attr('font-size', 10.5).attr('fill', '#2f6a2f').text('Volume 100,506,208');

    // axes
    svg.append('g').attr('transform', 'translate(' + PR + ',0)')
        .call(d3.axisRight(yPrice).tickValues(priceTicks).tickFormat(d3.format('.1f')).tickSize(3).tickPadding(1))
        .call(g => g.select('.domain').remove())
        .call(g => g.selectAll('text').attr('font-size', 10.5));
    svg.append('g').attr('transform', 'translate(' + PL + ',0)')
        .call(d3.axisLeft(yVol).tickValues(volTicks).tickFormat(d => d + 'M').tickSize(3).tickPadding(1))
        .call(g => g.select('.domain').remove())
        .call(g => g.selectAll('text').attr('font-size', 10.5));

    // ---- MACD panel ----
    const mg = svg.append('g').attr('clip-path', clip('clip-macd', macdTop, macdBot));
    mg.selectAll('.mgrid').data([-6, -4, -2, 0, 2, 4]).enter().append('line')
        .attr('x1', PL).attr('x2', PR).attr('y1', d => yMacd(d)).attr('y2', d => yMacd(d))
        .attr('stroke', GRID);
    const hist = macdValues.map((m, i) => [i, m - signalValues[i]]);
    mg.selectAll('.hist').data(hist).enter().append('rect')
        .attr('x', d => x(d[0]) - 1.5).attr('width', 3)
        .attr('y', d => Math.min(yMacd(0), yMacd(d[1])))
        .attr('height', d => Math.max(0.8, Math.abs(yMacd(d[1]) - yMacd(0))))
        .attr('fill', '#5f9483').attr('stroke', '#3c6b5d').attr('stroke-width', 0.5);
    mg.append('path').datum(signalValues)
        .attr('d', d3.line().x((d, i) => x(i)).y(d => yMacd(d)))
        .attr('fill', 'none').attr('stroke', '#b3284f').attr('stroke-width', 1.1);
    mg.append('path').datum(macdValues)
        .attr('d', d3.line().x((d, i) => x(i)).y(d => yMacd(d)))
        .attr('fill', 'none').attr('stroke', '#000').attr('stroke-width', 2);
    mg.append('ellipse').attr('cx', x(91.6)).attr('cy', yMacd(3.85)).attr('rx', 12.5).attr('ry', 5)
        .attr('fill', 'none').attr('stroke', '#ff1a1a').attr('stroke-width', 2.5);
    mg.append('ellipse').attr('cx', x(139.6)).attr('cy', yMacd(-2.1)).attr('rx', 12).attr('ry', 4)
        .attr('fill', 'none').attr('stroke', '#1a2cf0').attr('stroke-width', 2.5);

    svg.append('line').attr('x1', 49).attr('x2', 57).attr('y1', 595).attr('y2', 595).attr('stroke', '#000').attr('stroke-width', 2.5);
    const ml = svg.append('text').attr('class', 'dj').attr('x', 61).attr('y', 599).attr('font-size', 11.3);
    ml.append('tspan').text('MACD(12,26,9) -6.070');
    ml.append('tspan').attr('fill', '#a0203f').text(', -4.809');
    ml.append('tspan').attr('fill', '#4a8a78').text(', -1.261');

    svg.append('g').attr('transform', 'translate(' + PR + ',0)')
        .call(d3.axisRight(yMacd).tickValues(macdTicks).tickSize(3).tickPadding(2))
        .call(g => g.select('.domain').remove())
        .call(g => g.selectAll('text').attr('font-size', 10.5));

    // panel frames
    [[rsiTop, rsiBot], [priceTop, priceBot], [macdTop, macdBot]].forEach(p => {
        svg.append('rect').attr('x', PL + 0.5).attr('y', p[0] + 0.5).attr('width', PR - PL - 1).attr('height', p[1] - p[0])
            .attr('fill', 'none').attr('stroke', FRAME);
    });
    svg.append('line').attr('x1', PL).attr('x2', PR).attr('y1', macdTop + 0.5).attr('y2', macdTop + 0.5)
        .attr('stroke', '#1a2cf0').attr('stroke-dasharray', '3,2').attr('stroke-width', 1.3);

    // day labels, between panels and at the bottom
    [584, 740].forEach(yy => {
        svg.append('g').selectAll('text').data(dayLabels).enter().append('text')
            .attr('x', (d, k) => x(dayIndex[k])).attr('y', yy).attr('text-anchor', 'middle')
            .attr('font-size', 10.5).text(d => d);
    });

    // value tags on the right axis (drawn over the tick labels, as on the original)
    function tag(y, txt, stroke, bold) {
        const g = svg.append('g');
        const w = txt.length > 7 ? 60 : 44;
        g.append('path')
            .attr('d', `M${PR - 1},${y} L${PR + 3},${y - 5.5} L${PR + 3 + w},${y - 5.5} L${PR + 3 + w},${y + 5.5} L${PR + 3},${y + 5.5} Z`)
            .attr('fill', '#fff').attr('stroke', stroke).attr('stroke-width', bold ? 1.6 : 1);
        g.append('text').attr('x', PR + 5).attr('y', y + 4).attr('font-size', 10.5)
            .attr('font-weight', bold ? 'bold' : 'normal').text(txt);
    }
    tag(yRsi(35.47), '35.47', '#3b4a8a', false);
    tag(yPrice(2113.65), '2113.65', NAVY, false);
    tag(yPrice(2095.62), '2095.62', NAVY, false);
    tag(yPrice(2085.51), '2085.51', '#000', true);
    tag(yVol(100.5), '100506208', '#000', false);
    tag(yPrice(2077.59), '2077.59', NAVY, false);
    tag(yMacd(-1.261), '-1.261', '#6a76a8', false);
    tag(yMacd(-4.809), '-4.809', '#a0203f', false);
    tag(yMacd(-6.07), '-6.070', '#000', false);
})();
</script>
</body>
</html>
